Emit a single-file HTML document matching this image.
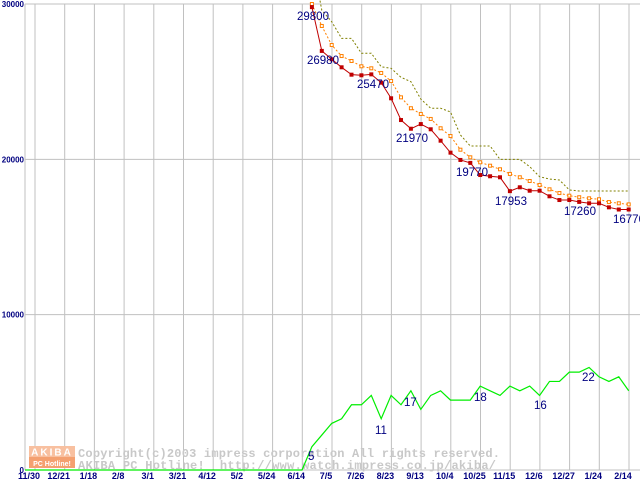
<!DOCTYPE html>
<html><head><meta charset="utf-8"><style>
html,body{margin:0;padding:0;background:#fff;width:640px;height:480px;overflow:hidden}
svg{display:block}
</style></head><body>
<svg id="chart" width="640" height="480" xmlns="http://www.w3.org/2000/svg" font-family="Liberation Sans, sans-serif">
<g id="grid"></g>
<g id="watermark">
<rect x="29" y="446" width="46" height="11" fill="#f8c0a0"/>
<rect x="29" y="457" width="46" height="11" fill="#f4a070"/>
<text x="52" y="455.5" font-size="10" font-weight="bold" fill="#fff" text-anchor="middle" letter-spacing="2">AKIBA</text>
<text x="52" y="466" font-size="7" font-weight="bold" fill="#fff" text-anchor="middle">PC Hotline!</text>
<text x="78" y="457" font-family="Liberation Mono, monospace" font-weight="bold" font-size="12" fill="#c8c8c8" textLength="422">Copyright(c)2003 impress corporation All rights reserved.</text>
<text x="78" y="469" font-family="Liberation Mono, monospace" font-weight="bold" font-size="12" fill="#c8c8c8" textLength="418" xml:space="preserve">AKIBA PC Hotline!  http://www.watch.impress.co.jp/akiba/</text>
</g>
<g id="series"></g>
</svg>
<script>
const xLabels = ["11/30","12/21","1/18","2/8","3/1","3/21","4/12","5/2","5/24","6/14","7/5","7/26","8/23","9/13","10/4","10/25","11/15","12/6","12/27","1/24","2/14"];
const yTicks = [0,10000,20000,30000];
const minPrice = [29800,26980,26440,25925,25450,25410,25470,24935,23930,22530,21970,22270,21935,21200,20430,19960,19770,18990,18910,18845,17953,18200,17980,17980,17620,17380,17380,17260,17170,17170,16910,16770,16770];
const avgPrice = [30000,28585,27360,26650,26330,25990,25860,25560,25040,23990,23290,22920,22600,22000,21500,20620,20130,19810,19590,19360,19060,18845,18605,18350,18070,17830,17660,17560,17490,17430,17250,17170,17100];
const maxPrice = [33000,29600,28860,27790,27790,26830,26830,25960,25860,25280,25000,23880,23290,23290,23050,21570,20860,20860,20860,20000,20000,20000,19530,18880,18730,18670,18030,17960,17960,17960,17960,17960,17960];
const shopCount = [0,5,7.5,10,11,14,14,16,11,16,14,17,13,16,17,15,15,15,18,17,16,18,17,18,16,19,19,21,21,22,20,19,20,17];
const priceLabels = [[1,"29800",297,20],[2,"26980",307,64],[7,"25470",357,88],[11,"21970",396,142],[17,"19770",456,176],[21,"17953",495,205],[28,"17260",564,215],[33,"16770",613,223]];
const countLabels = [[1,"5",308,460],[5,"11",375,434],[12,"17",404,406],[19,"18",474,401],[25,"16",534,409],[30,"22",582,381]];

const NS="http://www.w3.org/2000/svg";
const X0=35, GSTEP=29.7, WEEK0=302, WSTEP=GSTEP/3;
const yScale = v => 470 - v*466/30000;
const wx = k => WEEK0 + k*WSTEP;
const grid=document.getElementById('grid'), ser=document.getElementById('series');
function mk(tag, attrs, parent){const e=document.createElementNS(NS,tag);for(const k in attrs)e.setAttribute(k,attrs[k]);parent.appendChild(e);return e;}

xLabels.forEach((lab,i)=>{
  const x=X0+i*GSTEP;
  const l=mk('line',{x1:x,y1:4,x2:x,y2:470,stroke:'#c0c0c0','stroke-width':1},grid);
  
  
  const t=mk('text',{x:x-6,y:479,'font-size':9,'font-weight':'bold',fill:'#000080','text-anchor':'middle'},grid);
  t.textContent=lab;
  
  
});
yTicks.forEach(v=>{
  const y=yScale(v);
  const l=mk('line',{x1:25,y1:y,x2:640,y2:y,stroke:'#c0c0c0','stroke-width':1},grid);
  
  
  const t=mk('text',{x:24,y:y+3,'font-size':8,'font-weight':'bold',fill:'#000080','text-anchor':'end'},grid);
  t.textContent=String(v);
  
  
});
const ax=mk('line',{x1:25,y1:4,x2:25,y2:470,stroke:'#c0c0c0'},grid);



const gpts=[[25,yScale(0)]].concat(shopCount.map((c,k)=>[wx(k),yScale(c*300)]));
const gl=mk('polyline',{points:gpts.map(p=>p.join(',')).join(' '),fill:'none',stroke:'#00ee00','stroke-width':1.2},ser);



function pts(arr){return arr.map((v,i)=>wx(i+1)+','+yScale(v)).join(' ');}
const mx=mk('polyline',{points:pts(maxPrice),fill:'none',stroke:'#808000','stroke-width':1,'stroke-dasharray':'2,2'},ser);


const av=mk('polyline',{points:pts(avgPrice),fill:'none',stroke:'#ff8000','stroke-width':1,'stroke-dasharray':'2,2'},ser);


avgPrice.forEach((v,i)=>{
  const r=mk('rect',{x:wx(i+1)-1.5,y:yScale(v)-1.5,width:3,height:3,fill:'#fff',stroke:'#ff8000','stroke-width':1},ser);
  
  
});
const mn=mk('polyline',{points:pts(minPrice),fill:'none',stroke:'#c00000','stroke-width':1},ser);


minPrice.forEach((v,i)=>{
  const r=mk('rect',{x:wx(i+1)-2,y:yScale(v)-2,width:4,height:4,fill:'#c00000'},ser);
  
  
});
priceLabels.concat(countLabels).forEach(d=>{
  const t=mk('text',{x:d[2],y:d[3],'font-size':11.5,fill:'#000080'},ser);
  t.textContent=d[1];
  
  
});
</script>
</body></html>
